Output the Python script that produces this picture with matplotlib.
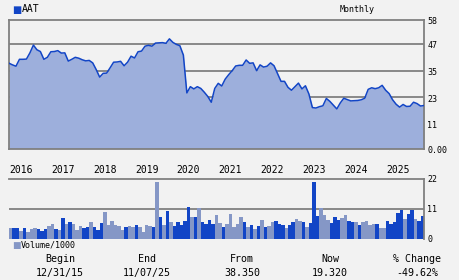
import matplotlib
matplotlib.use('Agg')
import matplotlib.pyplot as plt
import numpy as np
from matplotlib.transforms import blended_transform_factory as btf

# Monthly closes, Dec 2015 .. Nov 2025
price = [38.35, 37.6, 37.0, 40.1, 40.1, 40.2, 43.0, 46.5, 44.4, 43.6,
         40.1, 41.0, 43.5, 43.6, 44.0, 42.9, 43.0, 39.3, 40.1, 41.0,
         40.6, 39.9, 39.4, 39.6, 38.5, 35.5, 32.1, 33.8, 33.9, 36.3,
         38.8, 38.9, 39.2, 37.2, 38.8, 41.5, 40.7, 43.5, 43.8, 46.0,
         46.4, 46.0, 47.4, 47.5, 47.6, 47.3, 49.3, 47.7, 46.8, 46.2,
         42.0, 25.0, 27.8, 26.8, 27.8, 27.0, 25.3, 23.4, 20.8, 27.0,
         29.3, 28.1, 31.2, 33.2, 35.0, 37.1, 37.4, 37.4, 39.8, 38.3,
         38.5, 35.0, 37.6, 36.6, 37.0, 38.5, 37.2, 33.7, 30.2, 30.2,
         27.5, 26.2, 27.8, 29.4, 26.8, 28.2, 24.5, 18.4, 18.2, 18.8,
         19.2, 22.5, 21.2, 19.5, 17.8, 20.5, 22.6, 22.0, 21.4, 21.5,
         21.6, 21.9, 22.6, 26.6, 27.3, 26.9, 27.3, 28.4, 26.2, 24.7,
         21.9, 19.9, 18.6, 19.8, 18.9, 19.0, 20.8, 20.2, 19.1, 19.32]

# Monthly volume (thousands) and bar shade (1 = dark, 0 = light)
vol = [4.2, 4.2, 4.2, 2.9, 4.2, 2.6, 3.7, 4.2, 3.7, 3.1,
       3.7, 4.8, 5.5, 3.7, 3.3, 7.7, 5.5, 6.3, 5.5, 3.3,
       4.8, 4.1, 4.4, 6.3, 4.4, 3.3, 5.9, 10.0, 5.2, 6.6,
       5.2, 4.8, 3.3, 4.4, 4.8, 4.4, 5.2, 4.4, 2.6, 5.2,
       4.8, 4.4, 21.0, 8.1, 5.2, 10.3, 6.3, 4.8, 6.3, 5.2,
       6.6, 11.8, 8.1, 8.1, 11.2, 6.3, 5.5, 7.0, 5.5, 8.8,
       5.9, 4.4, 5.5, 9.2, 4.4, 5.5, 8.1, 6.3, 4.4, 5.2,
       3.7, 4.8, 7.0, 4.4, 4.8, 6.3, 6.6, 5.5, 5.2, 4.1,
       5.2, 6.3, 7.4, 6.6, 6.3, 4.4, 5.9, 21.0, 8.5, 11.2,
       8.8, 7.0, 5.9, 8.1, 7.0, 7.7, 8.8, 6.6, 6.3, 6.3,
       5.2, 6.3, 6.6, 5.2, 5.5, 5.5, 4.1, 4.1, 6.6, 5.5,
       6.3, 9.6, 10.7, 7.4, 9.2, 10.7, 7.4, 6.6, 8.5]
vol_dark = [0, 1, 1, 0, 1, 0, 0, 0, 1, 1,
            1, 0, 0, 1, 0, 1, 0, 1, 0, 0,
            0, 1, 1, 0, 1, 1, 1, 0, 0, 0,
            0, 0, 0, 1, 0, 0, 1, 0, 0, 0,
            0, 1, 0, 1, 0, 1, 0, 1, 1, 1,
            1, 1, 0, 1, 0, 1, 1, 1, 1, 0,
            0, 1, 0, 0, 0, 0, 0, 1, 0, 1,
            0, 1, 0, 1, 0, 0, 1, 1, 1, 0,
            1, 1, 0, 0, 1, 0, 1, 1, 1, 0,
            0, 0, 1, 1, 1, 0, 0, 1, 1, 0,
            1, 0, 0, 0, 0, 1, 0, 0, 1, 1,
            1, 1, 1, 0, 1, 1, 0, 1, 1]

years = ['2016', '2017', '2018', '2019', '2020', '2021', '2022', '2023', '2024', '2025']
year_start_idx = [1, 13, 25, 37, 49, 61, 73, 85, 97, 109]
price_ticks = [58, 47, 35, 23, 11, 0]
price_tick_labels = ['58', '47', '35', '23', '11', '0.00']
vol_ticks = [22, 11, 0]
vol_tick_labels = ['22', '11', '0']
summary_heads = ['Begin', 'End', 'From', 'Now', '% Change']
summary_vals = ['12/31/15', '11/07/25', '38.350', '19.320', '-49.62%']

BG = '#F2F2F2'
GRID = '#808080'
DARK = '#1245C6'
LIGHT = '#8597C6'
FILL = '#9DAFDC'
MONO = 'DejaVu Sans Mono'

W, H = 460, 280
fig = plt.figure(figsize=(W / 100, H / 100), dpi=100, facecolor=BG)

def px_axes(left, top, right, bottom):
    return fig.add_axes([left / W, (H - bottom) / H, (right - left) / W, (bottom - top) / H])

# ---- price panel ----
ax = px_axes(9, 19.5, 424, 148.5)
ax.set_facecolor(BG)
x = np.arange(len(price))
for g in [47, 35, 23, 11]:
    ax.axhline(g, color=GRID, lw=1.3, zorder=1)
ax.fill_between(x, price, 0, color=FILL, lw=0, zorder=2)
ax.plot(x, price, color=DARK, lw=1.1, zorder=3)
ax.set_xlim(0, len(price) - 1)
ax.set_ylim(0, 58)
ax.set_xticks([])
ax.set_yticks([])
for s in ax.spines.values():
    s.set_color(GRID)
    s.set_linewidth(1.3)
tr = btf(ax.transAxes, ax.transData)
for v, lab in zip(price_ticks, price_tick_labels):
    ax.text(1.008, v - 0.8, lab, transform=tr, ha='left', va='center', fontsize=6, family=MONO)

# year labels
trx = btf(ax.transData, ax.transAxes)
for yl, xi in zip(years, year_start_idx):
    ax.text(xi - 0.9, -0.167, yl, transform=trx, ha='left', va='center', fontsize=7, family=MONO)

# ---- volume panel ----
av = px_axes(9, 179, 424, 239)
av.set_facecolor(BG)
av.axhline(11, color=GRID, lw=1.3, zorder=1)
xv = np.arange(len(vol))
cols = [DARK if d else LIGHT for d in vol_dark]
av.bar(xv, vol, width=1.0, align='edge', color=cols, lw=0, antialiased=False, zorder=2)
av.set_xlim(0, len(price) - 1)
av.set_ylim(0, 22)
av.set_xticks([])
av.set_yticks([])
for s in av.spines.values():
    s.set_color(GRID)
    s.set_linewidth(1.3)
av.spines['bottom'].set_visible(False)
av.spines['left'].set_visible(False)
trv = btf(av.transAxes, av.transData)
for v, lab in zip(vol_ticks, vol_tick_labels):
    av.text(1.008, v - 0.3, lab, transform=trv, ha='left', va='center', fontsize=6, family=MONO)

# ---- header ----
fig.text(12.5 / W, 1 - 9.5 / H, '\u25A0', color=DARK, fontsize=7, ha='left', va='center', family='DejaVu Sans')
fig.text(22 / W, 1 - 9.5 / H, 'AAT', fontsize=7, ha='left', va='center', family=MONO)
fig.text(357 / W, 1 - 9.5 / H, 'Monthly', fontsize=6, ha='center', va='center', family=MONO)

# volume legend
fig.text(12.5 / W, 1 - 245.5 / H, '\u25A0', color=LIGHT, fontsize=6.5, ha='left', va='center', family='DejaVu Sans')
fig.text(20.5 / W, 1 - 245 / H, 'Volume/1000', fontsize=6, ha='left', va='center', family=MONO)

# ---- summary ----
centers = [60, 147, 242, 330, 417]
for cx, hd, vl in zip(centers, summary_heads, summary_vals):
    fig.text(cx / W, 1 - 259 / H, hd, fontsize=7.2, ha='center', va='center', family=MONO)
    fig.text(cx / W, 1 - 273 / H, vl, fontsize=7.2, ha='center', va='center', family=MONO)

fig.savefig('out.png', dpi=100, facecolor=BG)
